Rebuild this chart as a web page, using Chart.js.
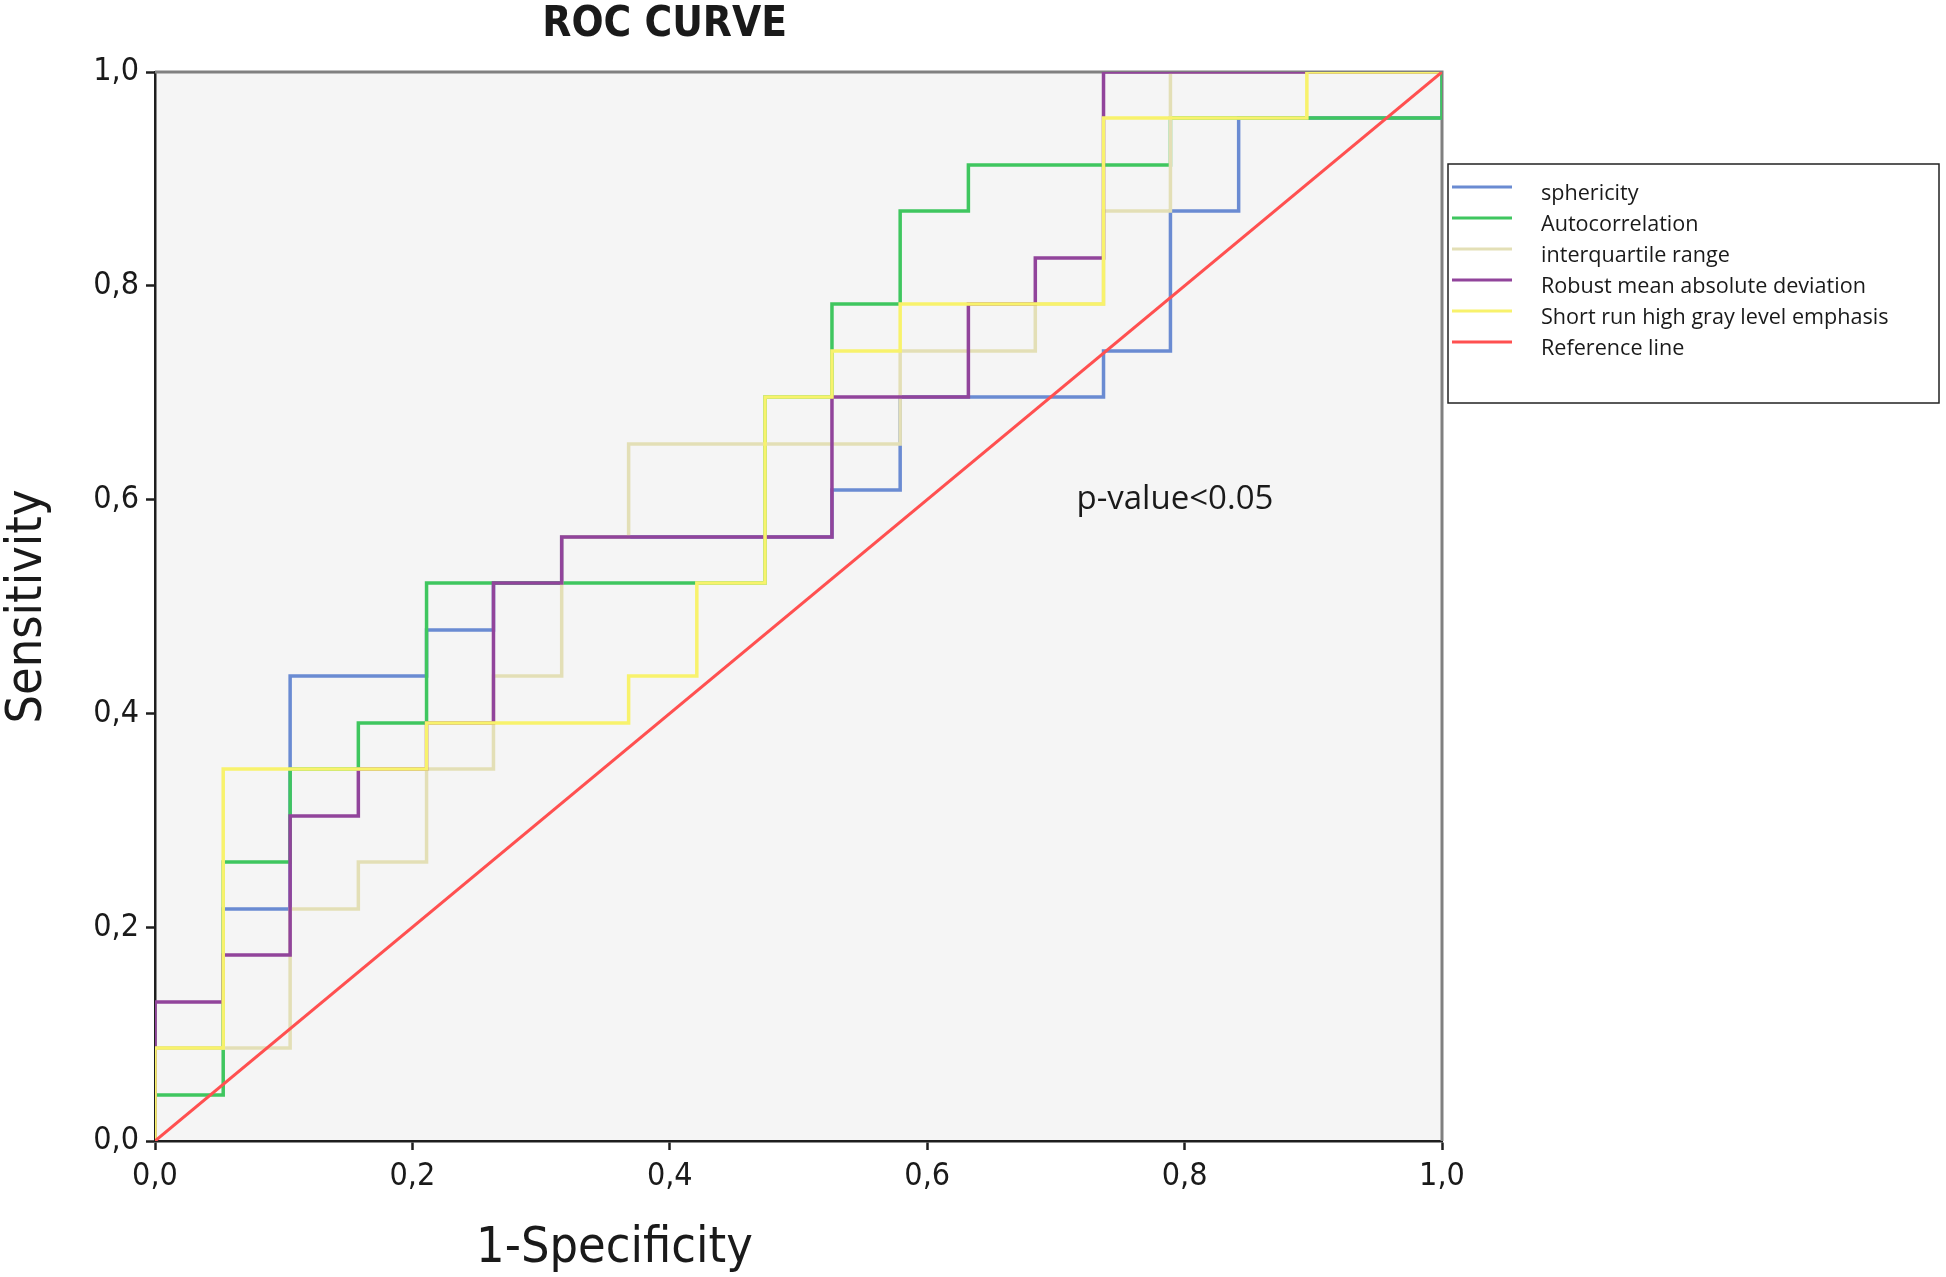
<!DOCTYPE html>
<html>
<head>
<meta charset="utf-8">
<title>ROC CURVE</title>
<script src="https://cdn.jsdelivr.net/npm/chart.js@4.4.0/dist/chart.umd.min.js"></script>
<style>
    html, body { margin: 0; padding: 0; background: #ffffff; }
    #rocChart { display: block; }
</style>
</head>
<body>
<canvas id="rocChart" width="1946" height="1277"></canvas>
<script>
// 1-Specificity at every step of the curves (first 0 repeated so each curve starts at the origin)
const fpr = [0, 0, 0.053, 0.105, 0.158, 0.211, 0.263, 0.316, 0.368, 0.421, 0.474,
             0.526, 0.579, 0.632, 0.684, 0.737, 0.789, 0.842, 0.895, 0.947, 1];

// Sensitivity reached at each of the fpr values above
const sphericity = [0, 0.087, 0.217, 0.435, 0.435, 0.478, 0.522, 0.565, 0.565, 0.565, 0.565,
                    0.609, 0.696, 0.696, 0.696, 0.739, 0.870, 0.957, 0.957, 0.957, 1];
const autocorrelation = [0, 0.043, 0.261, 0.348, 0.391, 0.522, 0.522, 0.522, 0.522, 0.522, 0.696,
                         0.783, 0.870, 0.913, 0.913, 0.913, 0.957, 0.957, 0.957, 0.957, 1];
const interquartileRange = [0, 0.087, 0.087, 0.217, 0.261, 0.348, 0.435, 0.565, 0.652, 0.652, 0.652,
                            0.652, 0.739, 0.739, 0.783, 0.870, 1, 1, 1, 1, 1];
const robustMeanAbsDev = [0, 0.130, 0.174, 0.304, 0.348, 0.391, 0.522, 0.565, 0.565, 0.565, 0.565,
                          0.696, 0.696, 0.783, 0.826, 1, 1, 1, 1, 1, 1];
const shortRunHighGray = [0, 0.087, 0.348, 0.348, 0.348, 0.391, 0.391, 0.391, 0.435, 0.522, 0.696,
                          0.739, 0.783, 0.783, 0.783, 0.957, 0.957, 0.957, 1, 1, 1];

const referenceX = [0, 1];
const referenceY = [0, 1];

const seriesLabels = ['sphericity', 'Autocorrelation', 'interquartile range',
                      'Robust mean absolute deviation', 'Short run high gray level emphasis', 'Reference line'];
const tickLabels = ['0,0', '0,2', '0,4', '0,6', '0,8', '1,0'];

const COLORS = {
    blue: '#6a8bd2',
    green: '#3fc65f',
    tan: '#e3dfb6',
    purple: '#91449b',
    yellow: '#f8f26c',
    red: '#ff5050',
    plotBg: '#f5f5f5',
    frame: '#808080',
    axis: '#1e1e1e',
    text: '#1a1a1a'
};

const AXIS_FONT = "'DejaVu Sans Condensed', 'Liberation Sans Narrow', 'DejaVu Sans', sans-serif";
const LEGEND_FONT = "'Open Sans', 'Noto Sans', sans-serif";

const toPoints = (xs, ys) => xs.map((x, i) => ({ x: x, y: ys[i] }));

const stepLine = (label, xs, ys, color, order) => ({
    label: label,
    data: toPoints(xs, ys),
    borderColor: color,
    backgroundColor: color,
    borderWidth: 3.5,
    stepped: 'before',
    pointRadius: 0,
    borderJoinStyle: 'miter',
    borderCapStyle: 'butt',
    fill: false,
    order: order
});

// frame, titles, annotation and boxed legend drawn around the plot
const rocDecor = {
    id: 'rocDecor',

    beforeDraw(chart) {
        const { ctx, chartArea: a } = chart;
        ctx.save();
        ctx.fillStyle = COLORS.plotBg;
        ctx.fillRect(a.left, a.top, a.right - a.left, a.bottom - a.top);
        ctx.restore();
    },

    beforeDatasetsDraw(chart) {
        const { ctx, chartArea: a } = chart;
        ctx.save();
        ctx.strokeStyle = COLORS.frame;
        ctx.lineWidth = 3;
        ctx.beginPath();
        ctx.moveTo(a.left, a.top);
        ctx.lineTo(a.right, a.top);
        ctx.lineTo(a.right, a.bottom);
        ctx.stroke();
        ctx.restore();
    },

    afterDraw(chart) {
        const { ctx, chartArea: a, scales } = chart;
        const xs = scales.x;
        const ys = scales.y;
        ctx.save();
        ctx.fillStyle = COLORS.text;

        // chart title
        ctx.font = "bold 42px " + AXIS_FONT;
        ctx.textAlign = 'center';
        ctx.textBaseline = 'alphabetic';
        ctx.fillText('ROC CURVE', xs.getPixelForValue(0.396), 36);

        // axis titles
        ctx.font = "50px " + AXIS_FONT;
        ctx.fillText('1-Specificity', xs.getPixelForValue(0.357), 1262);
        ctx.save();
        ctx.translate(41, (a.top + a.bottom) / 2);
        ctx.rotate(-Math.PI / 2);
        ctx.fillText('Sensitivity', 0, 0);
        ctx.restore();

        // annotation
        ctx.font = "33px " + LEGEND_FONT;
        ctx.textAlign = 'left';
        ctx.textBaseline = 'middle';
        ctx.fillText('p-value<0.05', xs.getPixelForValue(0.716), ys.getPixelForValue(0.60));

        // legend box
        const left = a.right + 6;
        const top = a.top + 92;
        const width = 491;
        const height = 239;
        ctx.fillStyle = '#ffffff';
        ctx.fillRect(left, top, width, height);
        ctx.strokeStyle = '#222222';
        ctx.lineWidth = 1.5;
        ctx.strokeRect(left, top, width, height);

        ctx.font = "21.6px " + LEGEND_FONT;
        ctx.textBaseline = 'middle';
        chart.data.datasets.forEach((ds, i) => {
            const rowY = top + 26 + i * 31;
            ctx.strokeStyle = ds.borderColor;
            ctx.lineWidth = 3;
            ctx.beginPath();
            ctx.moveTo(left + 4, rowY - 3);
            ctx.lineTo(left + 64, rowY - 3);
            ctx.stroke();
            ctx.fillStyle = COLORS.text;
            ctx.fillText(ds.label, left + 93, rowY + 4);
        });
        ctx.restore();
    }
};

const axisOptions = (width, height) => ({
    type: 'linear',
    min: 0,
    max: 1,
    border: { display: true, color: COLORS.axis, width: 2.5 },
    grid: {
        display: true,
        drawOnChartArea: false,
        drawTicks: true,
        tickLength: 9,
        tickWidth: 2.5,
        tickColor: COLORS.axis
    },
    ticks: {
        stepSize: 0.2,
        autoSkip: false,
        maxRotation: 0,
        color: COLORS.text,
        font: { family: AXIS_FONT, size: 32 },
        padding: 7,
        callback: (value, index) => tickLabels[index]
    },
    afterFit(scale) {
        if (width) scale.width = width;
        if (height) scale.height = height;
    }
});

const chart = new Chart(document.getElementById('rocChart'), {
    type: 'line',
    data: {
        datasets: [
            stepLine(seriesLabels[0], fpr, sphericity, COLORS.blue, 6),
            stepLine(seriesLabels[1], fpr, autocorrelation, COLORS.green, 5),
            stepLine(seriesLabels[2], fpr, interquartileRange, COLORS.tan, 4),
            stepLine(seriesLabels[3], fpr, robustMeanAbsDev, COLORS.purple, 3),
            stepLine(seriesLabels[4], fpr, shortRunHighGray, COLORS.yellow, 2),
            {
                label: seriesLabels[5],
                data: toPoints(referenceX, referenceY),
                borderColor: COLORS.red,
                backgroundColor: COLORS.red,
                borderWidth: 3,
                pointRadius: 0,
                fill: false,
                order: 1
            }
        ]
    },
    options: {
        responsive: false,
        animation: false,
        devicePixelRatio: 1,
        layout: { padding: { left: 0, top: 72, right: 504, bottom: 0 } },
        plugins: {
            legend: { display: false },
            title: { display: false },
            tooltip: { enabled: false }
        },
        scales: {
            x: axisOptions(null, 136),
            y: axisOptions(155, null)
        }
    },
    plugins: [rocDecor]
});
</script>
</body>
</html>
